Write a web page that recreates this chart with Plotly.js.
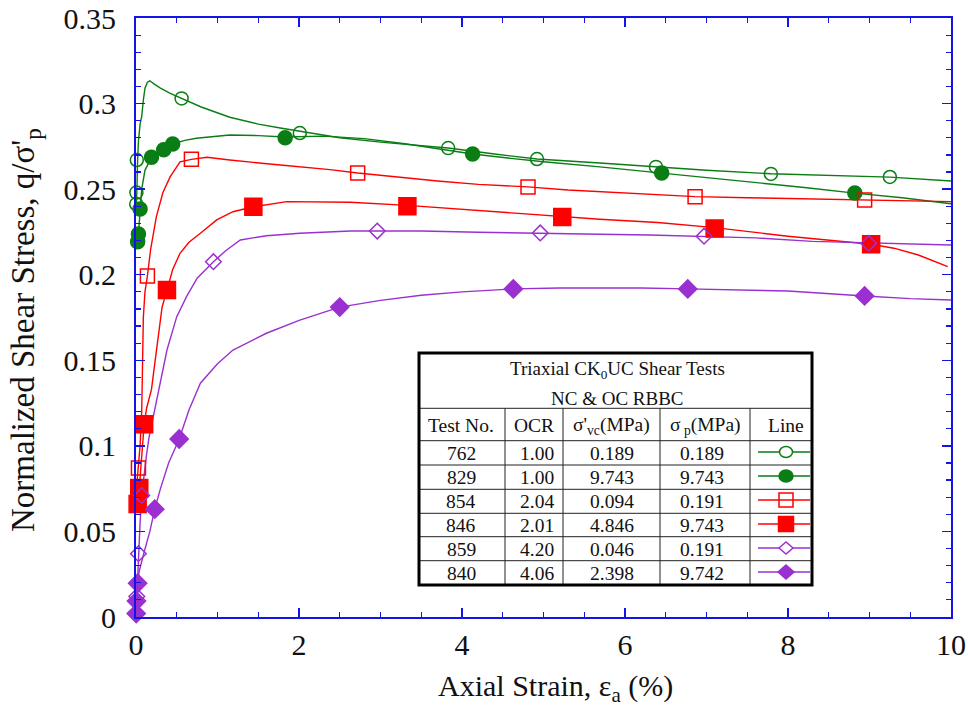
<!DOCTYPE html>
<html>
<head>
<meta charset="utf-8">
<script src="https://cdn.plot.ly/plotly-3.0.1.min.js"></script>
<style>html,body{margin:0;padding:0;background:#fff;}#chart{width:968px;height:712px;}</style>
</head>
<body>
<div id="chart"></div>
<script>
// ---- Data ----
// Test 762 (open circle, green)
const t762_x = [0, 0.005, 0.01, 0.02, 0.03, 0.05, 0.07, 0.09, 0.11, 0.14, 0.17, 0.22, 0.30, 0.42, 0.56, 0.8, 1.15, 1.5, 1.77, 2.05, 2.5, 3.0, 3.5, 3.83, 4.4, 4.92, 5.69, 6.38, 7.0, 7.79, 8.5, 9.25, 10];
const t762_y = [0.236, 0.2413, 0.248, 0.267, 0.278, 0.288, 0.2924, 0.302, 0.309, 0.3125, 0.3133, 0.3115, 0.309, 0.306, 0.303, 0.298, 0.292, 0.288, 0.2857, 0.2836, 0.280, 0.2775, 0.2755, 0.274, 0.2705, 0.2676, 0.2653, 0.263, 0.261, 0.259, 0.258, 0.257, 0.2548];
const t762_mx = [0.003, 0.005, 0.01, 0.56, 2.01, 3.83, 4.92, 6.38, 7.79, 9.25];
const t762_my = [0.2413, 0.248, 0.267, 0.303, 0.2828, 0.274, 0.2676, 0.263, 0.2589, 0.2571];

// Test 829 (filled circle, green)
const t829_x = [0, 0.02, 0.03, 0.05, 0.07, 0.11, 0.15, 0.19, 0.26, 0.34, 0.45, 0.6, 0.74, 1.15, 1.5, 1.83, 2.3, 2.8, 3.3, 3.7, 4.13, 4.6, 5.0, 5.69, 6.45, 7.0, 7.5, 8.2, 8.82, 9.4, 10];
const t829_y = [0.215, 0.2193, 0.2238, 0.2384, 0.250, 0.261, 0.265, 0.2686, 0.271, 0.273, 0.2764, 0.2785, 0.2797, 0.2816, 0.2813, 0.2805, 0.281, 0.2795, 0.2765, 0.2735, 0.2705, 0.268, 0.266, 0.263, 0.2594, 0.2565, 0.2545, 0.251, 0.2477, 0.245, 0.2415];
const t829_mx = [0.02, 0.03, 0.05, 0.19, 0.34, 0.45, 1.83, 4.13, 6.45, 8.82];
const t829_my = [0.2193, 0.2238, 0.2384, 0.2686, 0.273, 0.2764, 0.2800, 0.2705, 0.2594, 0.2477];

// Test 854 (open square, red)
const t854_x = [0, 0.01, 0.02, 0.03, 0.05, 0.07, 0.08, 0.09, 0.11, 0.14, 0.18, 0.25, 0.33, 0.42, 0.54, 0.68, 0.87, 1.15, 1.77, 2.38, 2.72, 3.2, 3.7, 4.2, 4.81, 5.3, 5.69, 6.2, 6.86, 7.5, 8.2, 8.94, 9.5, 10];
const t854_y = [0.072, 0.078, 0.083, 0.087, 0.10, 0.12, 0.15, 0.175, 0.19, 0.1993, 0.215, 0.234, 0.248, 0.2573, 0.266, 0.2674, 0.2686, 0.267, 0.2641, 0.2614, 0.2594, 0.257, 0.2548, 0.2528, 0.2513, 0.2495, 0.2485, 0.247, 0.2456, 0.245, 0.2443, 0.2437, 0.2432, 0.2427];
const t854_mx = [0.03, 0.14, 0.68, 2.72, 4.81, 6.86, 8.94];
const t854_my = [0.087, 0.1993, 0.2674, 0.2594, 0.2513, 0.2456, 0.2437];

// Test 846 (filled square, red)
const t846_x = [0, 0.02, 0.04, 0.07, 0.10, 0.13, 0.16, 0.19, 0.23, 0.28, 0.32, 0.38, 0.45, 0.54, 0.65, 0.79, 0.99, 1.19, 1.44, 1.85, 2.63, 3.33, 4.3, 5.23, 5.69, 6.4, 7.1, 8.0, 8.6, 9.02, 9.3, 9.6, 9.96];
const t846_y = [0.064, 0.066, 0.075, 0.095, 0.1126, 0.122, 0.128, 0.133, 0.148, 0.166, 0.181, 0.191, 0.203, 0.2125, 0.219, 0.2242, 0.232, 0.2368, 0.2397, 0.2427, 0.2423, 0.2405, 0.237, 0.2337, 0.2324, 0.2305, 0.2275, 0.2225, 0.2195, 0.2178, 0.2155, 0.2115, 0.2047];
const t846_mx = [0.02, 0.04, 0.10, 0.38, 1.44, 3.33, 5.23, 7.1, 9.02];
const t846_my = [0.066, 0.0754, 0.1126, 0.191, 0.2397, 0.2400, 0.2337, 0.227, 0.2178];

// Test 859 (open diamond, purple)
const t859_x = [0, 0.01, 0.02, 0.03, 0.05, 0.07, 0.10, 0.13, 0.16, 0.21, 0.29, 0.38, 0.5, 0.62, 0.75, 0.95, 1.1, 1.28, 1.6, 2.01, 2.63, 2.96, 3.5, 4.2, 4.96, 5.69, 6.3, 6.97, 7.6, 8.3, 8.99, 9.5, 10];
const t859_y = [0, 0.012, 0.025, 0.037, 0.055, 0.071, 0.085, 0.095, 0.105, 0.117, 0.1366, 0.156, 0.1755, 0.1872, 0.198, 0.2076, 0.214, 0.2203, 0.2228, 0.2242, 0.2255, 0.2255, 0.2255, 0.2248, 0.2244, 0.2236, 0.2232, 0.2225, 0.2215, 0.2195, 0.2185, 0.2178, 0.2174];
const t859_mx = [0.01, 0.03, 0.07, 0.95, 2.96, 4.96, 6.97, 8.99];
const t859_my = [0.012, 0.037, 0.071, 0.2076, 0.2255, 0.2244, 0.2225, 0.2183];

// Test 840 (filled diamond, purple)
const t840_x = [0, 0.005, 0.01, 0.02, 0.04, 0.07, 0.10, 0.17, 0.23, 0.30, 0.40, 0.53, 0.65, 0.79, 1.0, 1.19, 1.4, 1.6, 2.01, 2.5, 3.0, 3.5, 4.0, 4.63, 5.2, 5.69, 6.2, 6.77, 7.4, 8.0, 8.94, 9.5, 10];
const t840_y = [0, 0.002, 0.0093, 0.0197, 0.027, 0.033, 0.038, 0.05, 0.063, 0.075, 0.09, 0.104, 0.121, 0.1366, 0.148, 0.156, 0.161, 0.1658, 0.1735, 0.1811, 0.185, 0.188, 0.190, 0.1917, 0.1922, 0.1924, 0.1922, 0.1917, 0.1912, 0.1905, 0.1876, 0.186, 0.1852];
const t840_mx = [0.003, 0.006, 0.02, 0.23, 0.53, 2.5, 4.63, 6.77, 8.94];
const t840_my = [0.002, 0.0093, 0.0197, 0.063, 0.104, 0.1811, 0.1917, 0.1917, 0.1876];

// Table contents
const testNos = ["762", "829", "854", "846", "859", "840"];
const ocrs = ["1.00", "1.00", "2.04", "2.01", "4.20", "4.06"];
const sigVc = ["0.189", "9.743", "0.094", "4.846", "0.046", "2.398"];
const sigP = ["0.189", "9.743", "0.191", "9.743", "0.191", "9.742"];

// ---- Styles ----
const GREEN = '#0a7d14', RED = '#ff0000', PURPLE = '#9b30d0', BLUE = '#1414e6';
const series = [
  {x: t762_x, y: t762_y, mx: t762_mx, my: t762_my, c: GREEN, sym: 'circle-open', sz: 13},
  {x: t829_x, y: t829_y, mx: t829_mx, my: t829_my, c: GREEN, sym: 'circle', sz: 14},
  {x: t854_x, y: t854_y, mx: t854_mx, my: t854_my, c: RED, sym: 'square-open', sz: 14},
  {x: t846_x, y: t846_y, mx: t846_mx, my: t846_my, c: RED, sym: 'square', sz: 17},
  {x: t859_x, y: t859_y, mx: t859_mx, my: t859_my, c: PURPLE, sym: 'diamond-open', sz: 12},
  {x: t840_x, y: t840_y, mx: t840_mx, my: t840_my, c: PURPLE, sym: 'diamond', sz: 14}
];

const traces = [];
series.forEach(s => {
  traces.push({x: s.x, y: s.y, type: 'scatter', mode: 'lines', line: {color: s.c, width: 1.4}, showlegend: false, hoverinfo: 'skip'});
});
series.forEach(s => {
  traces.push({x: s.mx, y: s.my, type: 'scatter', mode: 'markers', cliponaxis: false,
    marker: {symbol: s.sym, size: s.sz, color: s.c, line: {color: s.c, width: 1.5}}, showlegend: false});
});

// ---- Table (pixel -> paper helpers) ----
const L = 136, R = 951, T = 18, B = 617;
const px = v => (v - L) / (R - L);
const py = v => (B - v) / (B - T);
const shapes = [];
const ann = [];
const tL = 419, tR = 812, tT = 353, tB = 585;
const hLines = [408.3, 440.7, 465, 489.3, 513.3, 536.7, 560.7];
const vLines = [505, 563, 660, 750];
const thin = {color: '#222', width: 1};
hLines.forEach(y => shapes.push({type: 'line', xref: 'paper', yref: 'paper', x0: px(tL), x1: px(tR), y0: py(y), y1: py(y), line: thin}));
vLines.forEach(x => shapes.push({type: 'line', xref: 'paper', yref: 'paper', x0: px(x), x1: px(x), y0: py(408.3), y1: py(tB), line: thin}));
shapes.push({type: 'rect', xref: 'paper', yref: 'paper', x0: px(tL), x1: px(tR), y0: py(tB), y1: py(tT), line: {color: '#000', width: 3}});

const SERIF = 'Liberation Serif, Times New Roman, serif';
const tf = {family: SERIF, size: 19.5, color: '#111'};
const addText = (text, x, y, size) => ann.push({text: text, xref: 'paper', yref: 'paper', x: px(x), y: py(y), xanchor: 'center', yanchor: 'middle', showarrow: false, font: Object.assign({}, tf, size ? {size: size} : {})});
addText('Triaxial CK<sub>0</sub>UC Shear Tests', 617, 370, 19);
addText('NC &amp; OC RBBC', 617, 398, 19);
addText('Test No.', 461, 426);
addText('OCR', 534, 426);
addText("σ'<sub>vc</sub>(MPa)", 611, 426);
addText('σ<sub> p</sub>(MPa)', 705, 426);
addText('Line', 786, 426);
const rowY = [453, 477, 501, 525, 549, 573];
const colX = [461, 537, 612, 702];
testNos.forEach((t, i) => {
  addText(t, colX[0], rowY[i]);
  addText(ocrs[i], colX[1], rowY[i]);
  addText(sigVc[i], colX[2], rowY[i]);
  addText(sigP[i], colX[3], rowY[i]);
});
// legend line samples
const mxc = 786;
series.forEach((s, i) => {
  const y = rowY[i] - 1;
  shapes.push({type: 'line', xref: 'paper', yref: 'paper', x0: px(758), x1: px(810), y0: py(y), y1: py(y), line: {color: s.c, width: 1.4}});
  const filled = !s.sym.endsWith('open');
  const fill = filled ? s.c : 'rgba(0,0,0,0)';
  const h = Math.min(s.sz, 15) / 2;
  if (s.sym.startsWith('circle')) {
    shapes.push({type: 'circle', xref: 'paper', yref: 'paper', x0: px(mxc - h), x1: px(mxc + h), y0: py(y + h - 1), y1: py(y - h + 1), fillcolor: filled ? s.c : '#fff', line: {color: s.c, width: 1.5}});
  } else if (s.sym.startsWith('square')) {
    shapes.push({type: 'rect', xref: 'paper', yref: 'paper', x0: px(mxc - h), x1: px(mxc + h), y0: py(y + h), y1: py(y - h), fillcolor: fill, line: {color: s.c, width: 1.5}});
  } else {
    const d = h + 1;
    const path = 'M ' + px(mxc - d) + ' ' + py(y) + ' L ' + px(mxc) + ' ' + py(y - h) + ' L ' + px(mxc + d) + ' ' + py(y) + ' L ' + px(mxc) + ' ' + py(y + h) + ' Z';
    shapes.push({type: 'path', xref: 'paper', yref: 'paper', path: path, fillcolor: filled ? s.c : '#fff', line: {color: s.c, width: 1.5}});
  }
});

// Axis titles (as annotations for exact placement)
ann.push({text: 'Axial Strain, ε<sub>a</sub> (%)', xref: 'paper', yref: 'paper', x: px(555), y: py(688), xanchor: 'center', yanchor: 'middle', showarrow: false, font: {family: SERIF, size: 30, color: '#111'}});
ann.push({text: "Normalized Shear Stress, q/σ'<sub>p</sub>", xref: 'paper', yref: 'paper', x: px(25), y: py(330), xanchor: 'center', yanchor: 'middle', textangle: -90, showarrow: false, font: {family: SERIF, size: 33, color: '#111'}});

const axFont = {family: SERIF, size: 30, color: '#111'};
const layout = {
  width: 968, height: 712,
  margin: {l: L, r: 968 - R, t: T, b: 712 - B},
  paper_bgcolor: '#fff', plot_bgcolor: '#fff',
  showlegend: false,
  xaxis: {
    range: [0, 10], dtick: 2, tick0: 0, showgrid: false, zeroline: false,
    showline: true, linecolor: BLUE, linewidth: 2, mirror: 'ticks',
    ticks: 'inside', ticklen: 9, tickwidth: 1.5, tickcolor: BLUE,
    minor: {dtick: 0.5, ticks: 'inside', ticklen: 5, tickwidth: 1.2, tickcolor: BLUE, showgrid: false},
    tickfont: axFont, ticklabelstandoff: 0
  },
  yaxis: {
    range: [0, 0.35], dtick: 0.05, tick0: 0, showgrid: false, zeroline: false,
    showline: true, linecolor: BLUE, linewidth: 2, mirror: 'ticks',
    ticks: 'inside', ticklen: 9, tickwidth: 1.5, tickcolor: BLUE,
    minor: {dtick: 0.01, ticks: 'inside', ticklen: 5, tickwidth: 1.2, tickcolor: BLUE, showgrid: false},
    tickfont: axFont, ticklabelstandoff: 12
  },
  shapes: shapes,
  annotations: ann
};

Plotly.newPlot('chart', traces, layout, {staticPlot: true, displayModeBar: false});
</script>
</body>
</html>
